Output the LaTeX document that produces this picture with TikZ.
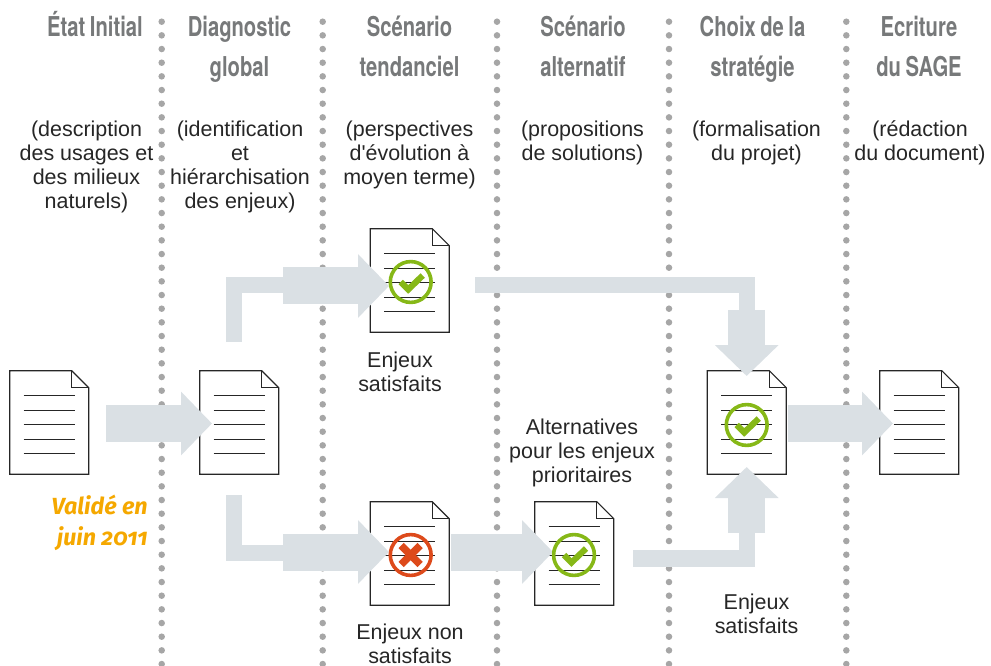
\documentclass[tikz,border=0pt]{standalone}
\usepackage{fontspec}
\usetikzlibrary{arrows.meta}
\setmainfont{Liberation Sans}
\newfontfamily\bodyfont{Liberation Sans}
\newfontfamily\headfont{TeX Gyre Heros}[FakeStretch=0.74,WordSpace=0.8]
\newfontfamily\valfont{Fira Sans}[Numbers=OldStyle]
\definecolor{arrowgrey}{HTML}{DAE0E4}
\definecolor{dotgrey}{HTML}{A6A6A6}
\definecolor{headgrey}{HTML}{77797A}
\definecolor{okgreen}{HTML}{86B817}
\definecolor{kored}{HTML}{DD4A1B}
\definecolor{valorange}{HTML}{F5A800}
\newcommand\firstl{\rule{0pt}{14pt}}
\newcommand\firsth{\rule{0pt}{20pt}}
\tikzset{
  x=0.75pt,y=-0.75pt,
  dotcol/.style={draw=dotgrey,line width=4.9pt,line cap=round,dash pattern=on 0pt off 10.25pt},
  headtxt/.style={anchor=north,inner sep=0pt,text=headgrey,align=center,font={\headfont\bfseries\fontsize{20.5pt}{30pt}\selectfont}},
  bodytxt/.style={anchor=north,inner sep=0pt,align=center,text=black!85,font={\bodyfont\fontsize{16.1pt}{18pt}\selectfont}},
  valtxt/.style={inner sep=0pt,align=right,text=valorange,font={\valfont\bfseries\itshape\fontsize{17.5pt}{23.3pt}\selectfont}},
  docbox/.style={minimum width=59.25pt,minimum height=77.25pt,inner sep=0pt},
  docline/.style={draw=black!85,line width=0.8pt,line join=miter},
  thinconn/.style={draw=arrowgrey,line width=12.2pt},
  fatconn/.style={draw=arrowgrey,line width=27.75pt,-{Triangle[length=23.25pt,width=46.5pt]}},
  badgering/.style={draw=#1,line width=2.7pt,fill=none},
  checkm/.style={draw=okgreen,line width=4.6pt,line cap=butt,line join=miter},
  crossm/.style={draw=kored,line width=5.6pt},
}
\newcommand\docat[2]{%
  \node[docbox] (#1) at #2 {};
  \fill[white] (#1.north west) -- ++(62,0) -- ++(17,17) |- (#1.south west) -- cycle;
  \draw[docline] (#1.north west) -- ++(62,0) -- ++(17,17) |- (#1.south west) -- cycle;
  \draw[docline] (#1.north west) ++(62,0) -- ++(0,17) -- ++(17,0);
  \foreach \ly in {25,39.5,54,68.5,83}{
    \draw[draw=black!85,line width=0.75pt] (#1.north west) ++(14,\ly) -- ++(51,0);
  }
}
\newcommand\checkbadge[2]{%
  \draw[badgering=okgreen] #2 circle (20.4);
  \draw[checkm] #2 ++(-10,0) -- ++(7.5,7.5) -- ++(14.5,-14);
}
\newcommand\crossbadge[2]{%
  \draw[badgering=kored] #2 circle (20.4);
  \draw[crossm] #2 ++(-9.5,-9.5) -- ++(19,19);
  \draw[crossm] #2 ++(-9.5,9.5) -- ++(19,-19);
}
\begin{document}
\begin{tikzpicture}
\useasboundingbox (0,0) rectangle (991,666);
\clip (0,0) rectangle (991,666);
% dotted column separators
\coordinate (c1a) at (161.7,21.7); \coordinate (c1b) at (161.7,680);
\coordinate (c2a) at (322.7,21.7); \coordinate (c2b) at (322.7,680);
\coordinate (c3a) at (497,21.7);   \coordinate (c3b) at (497,680);
\coordinate (c4a) at (669,21.7);   \coordinate (c4b) at (669,680);
\coordinate (c5a) at (846.3,21.7); \coordinate (c5b) at (846.3,680);
\foreach \c in {c1,c2,c3,c4,c5}{\draw[dotcol] (\c a) -- (\c b);}
% documents
\docat{d1}{(49.5,422.5)}
\docat{d2}{(239.5,422.5)}
\docat{d3}{(410,280.5)}
\docat{d4}{(410,553.5)}
\docat{d5}{(574.5,553.5)}
\docat{d6}{(747,422.5)}
\docat{d7}{(919.5,422.5)}
% connectors
\coordinate (a1s) at (106,423.5);  \coordinate (a1t) at (212,423.5);
\coordinate (a2s) at (234,342);    \coordinate (a2m) at (290,285);
\coordinate (a2f) at (283,286);    \coordinate (a2t) at (389,286);
\coordinate (a3s) at (234,495);    \coordinate (a3m) at (290,553);
\coordinate (a3f) at (283,552);    \coordinate (a3t) at (389,552);
\coordinate (a4s) at (451,552);    \coordinate (a4t) at (553,552);
\coordinate (a5s) at (475,285);    \coordinate (a5m) at (746.7,315);
\coordinate (a5f) at (746.7,310);  \coordinate (a5t) at (746.7,376);
\coordinate (a6s) at (633,558.5);  \coordinate (a6m) at (746.7,528);
\coordinate (a6f) at (746.7,533);  \coordinate (a6t) at (746.7,467);
\coordinate (a7s) at (788,423.5);  \coordinate (a7t) at (893,423.5);
\draw[fatconn] (a1s) -- (a1t);
\draw[thinconn] (a2s) |- (a2m);
\draw[fatconn] (a2f) -- (a2t);
\draw[thinconn] (a3s) |- (a3m);
\draw[fatconn] (a3f) -- (a3t);
\draw[fatconn] (a4s) -- (a4t);
\draw[thinconn] (a5s) -| (a5m);
\draw[fatconn] (a5f) -- (a5t);
\draw[thinconn] (a6s) -| (a6m);
\draw[fatconn] (a6f) -- (a6t);
\draw[fatconn] (a7s) -- (a7t);
% badges
\checkbadge{b3}{(410.7,282)}
\crossbadge{b4}{(410.7,555)}
\checkbadge{b5}{(574,555)}
\checkbadge{b6}{(746.7,425)}
% headings
\node[headtxt] (h1) at (95,9.3) {\firsth État Initial};
\node[headtxt] (h2) at (239.5,9.3) {\firsth Diagnostic\\global};
\node[headtxt] (h3) at (409.5,9.3) {\firsth Scénario\\tendanciel};
\node[headtxt] (h4) at (583,9.3) {\firsth Scénario\\alternatif};
\node[headtxt] (h5) at (752.5,9.3) {\firsth Choix de la\\stratégie};
\node[headtxt] (h6) at (919,9.3) {\firsth Ecriture\\du SAGE};
% descriptions
\node[bodytxt] (t1) at (86.5,117.3) {\firstl(description\\des usages et\\des milieux\\naturels)};
\node[bodytxt] (t2) at (240,117.3) {\firstl(identification\\et\\hiérarchisation\\des enjeux)};
\node[bodytxt] (t3) at (409.5,117.3) {\firstl(perspectives\\d'évolution à\\moyen terme)};
\node[bodytxt] (t4) at (582.5,117.3) {\firstl(propositions\\de solutions)};
\node[bodytxt] (t5) at (756.5,117.3) {\firstl(formalisation\\du projet)};
\node[bodytxt] (t6) at (920,117.3) {\firstl(rédaction\\du document)};
% labels
\node[bodytxt] (l1) at (400,348.3) {\firstl Enjeux\\satisfaits};
\node[bodytxt] (l2) at (582,415.3) {\firstl Alternatives\\pour les enjeux\\prioritaires};
\node[bodytxt] (l3) at (410,620.3) {\firstl Enjeux non\\satisfaits};
\node[bodytxt] (l4) at (756.5,590.3) {\firstl Enjeux\\satisfaits};
\node[valtxt,anchor=east] (v) at (148,522.5) {Validé en\\juin 2011};
\end{tikzpicture}
\end{document}
